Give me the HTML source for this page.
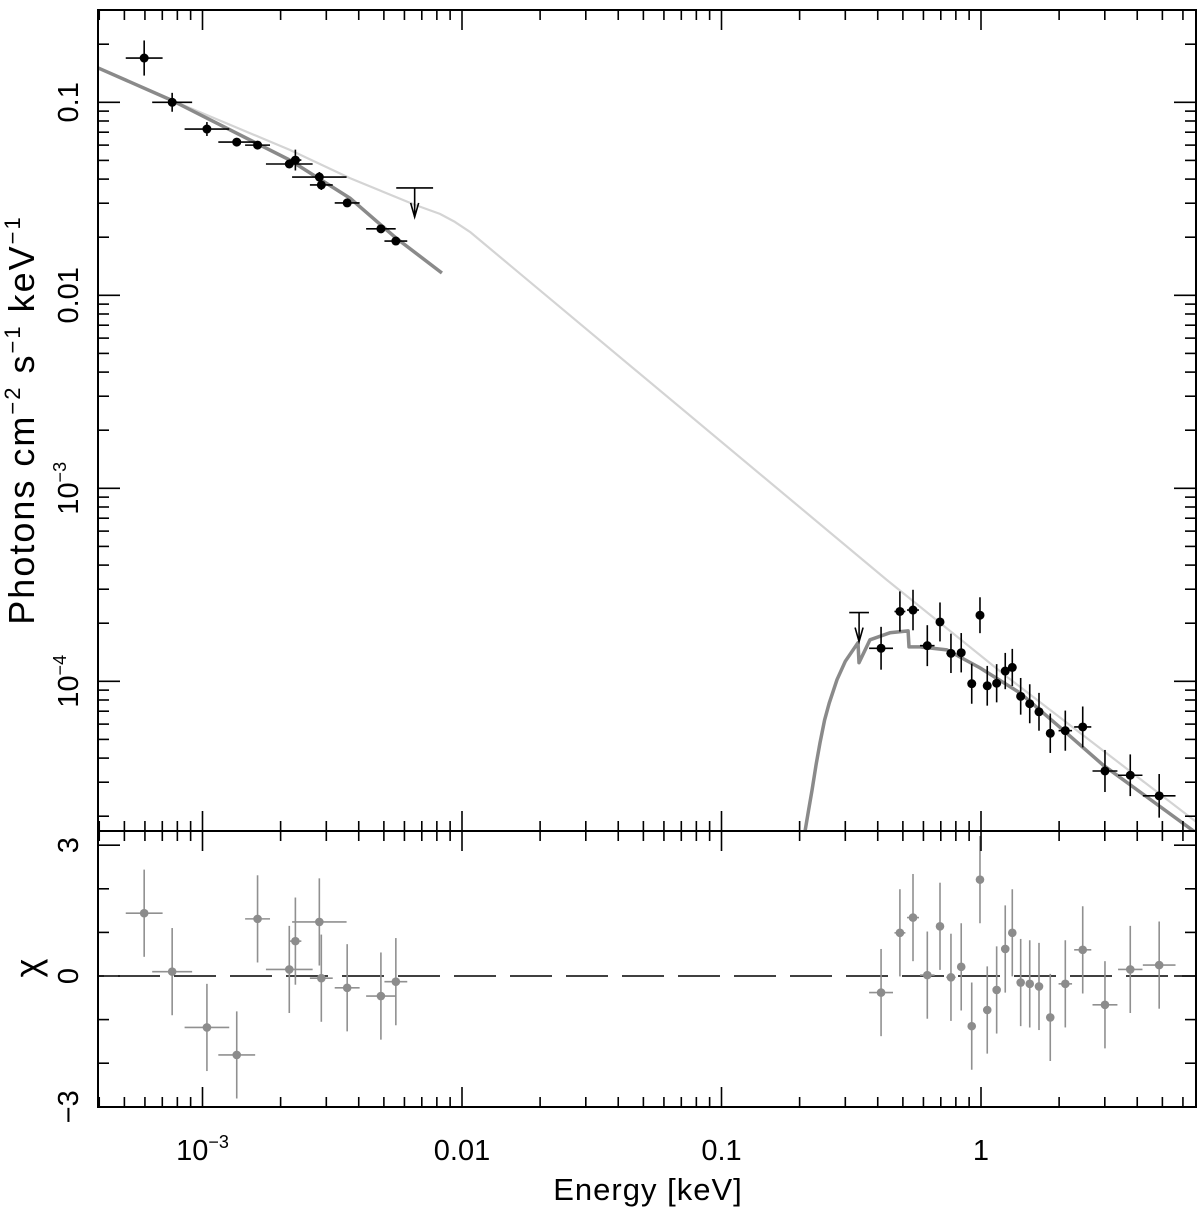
<!DOCTYPE html>
<html><head><meta charset="utf-8"><style>
html,body{margin:0;padding:0;background:#fff;}
svg{display:block;}
text{font-family:"Liberation Sans",sans-serif;fill:#000;}
</style></head><body>
<svg id="chart" width="1200" height="1215" xmlns="http://www.w3.org/2000/svg"></svg>
<script>
// ---- data: optical/UV points ----
const uvEnergy = [5.96e-4,7.64e-4,1.04e-3,1.355e-3,1.63e-3,2.16e-3,2.28e-3,2.82e-3,2.87e-3,3.61e-3,4.87e-3,5.56e-3];
const uvFlux = [0.1696,0.1,0.0727,0.0622,0.060,0.0479,0.0502,0.041,0.0373,0.0301,0.0221,0.0191];
const uvFluxErrDex = [0.091,0.049,0.036,0.02,0.02,0.02,0.054,0.026,0.026,0.016,0.016,0.016];
const uvEnergyErrDex = [0.071,0.077,0.086,0.071,0.048,0.090,0.023,0.105,0.044,0.048,0.057,0.044];
const uvChi = [1.44,0.10,-1.18,-1.81,1.31,0.15,0.80,1.24,-0.05,-0.27,-0.46,-0.13];
// ---- data: X-ray points ----
const xrEnergy = [0.412,0.487,0.547,0.621,0.695,0.766,0.839,0.921,0.991,1.057,1.149,1.240,1.320,1.422,1.541,1.673,1.849,2.113,2.466,3.004,3.76,4.86];
const xrFlux = [1.483e-4,2.30e-4,2.34e-4,1.53e-4,2.03e-4,1.396e-4,1.406e-4,9.72e-5,2.20e-4,9.48e-5,9.77e-5,1.13e-4,1.18e-4,8.36e-5,7.65e-5,6.95e-5,5.38e-5,5.55e-5,5.80e-5,3.43e-5,3.26e-5,2.55e-5];
const xrFluxErrDex = [0.111,0.104,0.105,0.106,0.101,0.102,0.102,0.104,0.093,0.103,0.099,0.094,0.096,0.095,0.101,0.098,0.102,0.104,0.106,0.109,0.108,0.113];
const xrEnergyErrDex = [0.046,0.021,0.023,0.028,0.013,0.018,0.015,0.012,0.010,0.010,0.010,0.010,0.010,0.010,0.010,0.010,0.010,0.026,0.033,0.048,0.047,0.063];
const xrChi = [-0.38,0.99,1.34,0.02,1.14,-0.03,0.21,-1.15,2.21,-0.78,-0.32,0.62,0.99,-0.15,-0.18,-0.24,-0.95,-0.18,0.60,-0.66,0.15,0.25];
// ---- upper limits ----
const ulEnergy = [6.57e-3,0.339];
const ulFlux = [0.036,2.27e-4];
const ulEnergyErrDex = [0.071,0.038];
// ---- models ----
const lightModelE = [3.95e-4,7.56e-4,2.17e-3,3.70e-3,6.59e-3,8.22e-3,9.39e-3,0.01074,0.434,1.259,6.74];
const lightModelF = [0.151,0.1028,0.0567,0.0405,0.0294,0.0264,0.0240,0.0213,3.35e-4,1.054e-4,1.87e-5];
const uvModelE = [3.95e-4,7.56e-4,2.17e-3,3.70e-3,5.57e-3,8.37e-3];
const uvModelF = [0.151,0.1028,0.0502,0.0319,0.0198,0.01305];
const xrModelE = [0.210,0.2165,0.2234,0.2315,0.2397,0.2497,0.2600,0.2787,0.300,0.3357,0.3388,0.3734,0.4457,0.5236,0.5279,0.582,0.739,0.991,1.413,2.07,2.95,6.74];
const xrModelF = [1.68e-5,2.15e-5,2.74e-5,3.70e-5,4.80e-5,6.30e-5,7.70e-5,1.019e-4,1.27e-4,1.585e-4,1.248e-4,1.640e-4,1.783e-4,1.825e-4,1.508e-4,1.508e-4,1.455e-4,1.173e-4,8.71e-5,5.60e-5,3.69e-5,1.64e-5];
const xTickValues = [0.001,0.01,0.1,1];
const xTickLabels = ["10<tspan dy='-12' font-size='18'>−3</tspan>","0.01","0.1","1"];
const yTickValues = [0.1,0.01,0.001,0.0001];
const yTickLabels = ["0.1","0.01","10<tspan dy='-12' font-size='18'>−3</tspan>","10<tspan dy='-12' font-size='18'>−4</tspan>"];
const chiTickValues = [3,0,-3];
const chiTickLabels = ["3","0","−3"];

const L=98,R=1196,T=10,MID=831,B=1107;
const X0=981, XDEC=259.5;
function xs(e){return X0+XDEC*Math.log10(e);}
function ys(f){return 102.3-193*(Math.log10(f)+1);}
function yc(c){return 976-43.6*c;}
const svg=document.getElementById('chart');
const NS='http://www.w3.org/2000/svg';
function mk(tag,attrs,parent){const el=document.createElementNS(NS,tag);for(const k in attrs)el.setAttribute(k,attrs[k]);(parent||svg).appendChild(el);return el;}

const defs=mk('defs',{});
const cp1=mk('clipPath',{id:'ctop'},defs);mk('rect',{x:L,y:T,width:R-L,height:MID-T},cp1);
const cp2=mk('clipPath',{id:'cbot'},defs);mk('rect',{x:L,y:MID,width:R-L,height:B-MID},cp2);

const gTop=mk('g',{'clip-path':'url(#ctop)'});


function poly(E,F,stroke,w,name){
  const pts=E.map((e,i)=>xs(e).toFixed(1)+','+ys(F[i]).toFixed(1)).join(' ');
  const p=mk('polyline',{points:pts,fill:'none',stroke:stroke,'stroke-width':w,'stroke-linejoin':'round'},gTop);
  
  
}
poly(lightModelE,lightModelF,'#d4d4d4',2.2,'unabsorbed-model-line');
poly(uvModelE,uvModelF,'#8a8a8a',3.5,'uv-model-line');
poly(xrModelE,xrModelF,'#8a8a8a',3.5,'xray-model-line');

function point(g,e,f,fd,ed,name){
  const x=xs(e),y=ys(f);
  const x1=xs(e/Math.pow(10,ed)),x2=xs(e*Math.pow(10,ed));
  const y1=ys(f*Math.pow(10,fd)),y2=ys(f/Math.pow(10,fd));
  const grp=mk('g',{},g);
  
  
  mk('line',{x1:x1,y1:y,x2:x2,y2:y,stroke:'#000','stroke-width':1.6},grp);
  mk('line',{x1:x,y1:y1,x2:x,y2:y2,stroke:'#000','stroke-width':1.6},grp);
  mk('circle',{cx:x,cy:y,r:4.5,fill:'#000'},grp);
}
uvEnergy.forEach((e,i)=>point(gTop,e,uvFlux[i],uvFluxErrDex[i],uvEnergyErrDex[i],'uv-data-point'));
xrEnergy.forEach((e,i)=>point(gTop,e,xrFlux[i],xrFluxErrDex[i],xrEnergyErrDex[i],'xray-data-point'));
ulEnergy.forEach((e,i)=>{
  const x=xs(e),y=ys(ulFlux[i]);
  const grp=mk('g',{},gTop);
  
  
  mk('line',{x1:xs(e/Math.pow(10,ulEnergyErrDex[i])),y1:y,x2:xs(e*Math.pow(10,ulEnergyErrDex[i])),y2:y,stroke:'#000','stroke-width':1.6},grp);
  mk('line',{x1:x,y1:y,x2:x,y2:y+29,stroke:'#000','stroke-width':1.6},grp);
  mk('polyline',{points:`${x-4},${y+15} ${x},${y+29} ${x+4},${y+15}`,fill:'none',stroke:'#000','stroke-width':1.6},grp);
});

const gBot=mk('g',{'clip-path':'url(#cbot)'});


const zl=mk('line',{x1:L,y1:yc(0),x2:R,y2:yc(0),stroke:'#000','stroke-width':1.6,'stroke-dasharray':'42,14','stroke-dashoffset':'-20'},gBot);


function rpoint(e,c,ed){
  const x=xs(e),y=yc(c);
  const grp=mk('g',{},gBot);
  
  
  mk('line',{x1:xs(e/Math.pow(10,ed)),y1:y,x2:xs(e*Math.pow(10,ed)),y2:y,stroke:'#909090','stroke-width':1.6},grp);
  mk('line',{x1:x,y1:yc(c+1),x2:x,y2:yc(c-1),stroke:'#909090','stroke-width':1.6},grp);
  mk('circle',{cx:x,cy:y,r:4.3,fill:'#8c8c8c'},grp);
}
uvEnergy.forEach((e,i)=>rpoint(e,uvChi[i],uvEnergyErrDex[i]));
xrEnergy.forEach((e,i)=>rpoint(e,xrChi[i],xrEnergyErrDex[i]));

const frame=mk('g',{stroke:'#000','stroke-width':2,fill:'none'});


mk('rect',{x:L,y:T,width:R-L,height:B-T},frame);
mk('line',{x1:L,y1:MID,x2:R,y2:MID},frame);
const ticks=mk('g',{stroke:'#000','stroke-width':1.6});


for(let d=-4;d<=0;d++){for(let m=1;m<=9;m++){
  const x=X0+XDEC*(d+Math.log10(m));
  if(x<L||x>R)continue;
  const len=m===1?20:10;
  [T,MID].forEach(y0=>mk('line',{x1:x,y1:y0,x2:x,y2:y0+len},ticks));
  [MID,B].forEach(y0=>mk('line',{x1:x,y1:y0,x2:x,y2:y0-len},ticks));
}}
for(let d=-5;d<=0;d++){for(let m=1;m<=9;m++){
  const y=ys(Math.pow(10,d)*m);
  if(y<T||y>MID)continue;
  const len=m===1?22:11;
  mk('line',{x1:L,y1:y,x2:L+len,y2:y},ticks);
  mk('line',{x1:R,y1:y,x2:R-len,y2:y},ticks);
}}
for(let c=-3;c<=3;c++){
  const y=yc(c);const len=(c%3===0)?22:11;
  mk('line',{x1:L,y1:y,x2:L+len,y2:y},ticks);
  mk('line',{x1:R,y1:y,x2:R-len,y2:y},ticks);
}
xTickValues.forEach((v,i)=>{
  const t=mk('text',{x:xs(v),y:1160,'font-size':29,'text-anchor':'middle'});
  t.innerHTML=xTickLabels[i];
  
  
});
yTickValues.forEach((v,i)=>{
  const y=ys(v);
  const t=mk('text',{x:0,y:0,'font-size':29,'text-anchor':'middle',transform:`translate(78,${y}) rotate(-90)`});
  t.innerHTML=yTickLabels[i];
  
  
});
chiTickValues.forEach((v,i)=>{
  const t=mk('text',{x:0,y:0,'font-size':29,'text-anchor':'middle',transform:`translate(78,${yc(v)}) rotate(-90)`});
  t.textContent=chiTickLabels[i];
  
  
});
const yt=mk('text',{x:0,y:0,'font-size':36,'text-anchor':'middle',transform:'translate(34,420) rotate(-90)','letter-spacing':'2'});
yt.innerHTML="Photons cm<tspan dy='-14' font-size='22'>−2</tspan><tspan dy='14'> s</tspan><tspan dy='-14' font-size='22'>−1</tspan><tspan dy='14'> keV</tspan><tspan dy='-14' font-size='22'>−1</tspan>";


const ct=mk('text',{x:0,y:0,'font-size':36,'text-anchor':'middle',transform:'translate(40,968) rotate(-90)'});
ct.textContent='χ';


const xt=mk('text',{x:648,y:1200,'font-size':31,'text-anchor':'middle','letter-spacing':'1'});
xt.textContent='Energy [keV]';


</script>
</body></html>
